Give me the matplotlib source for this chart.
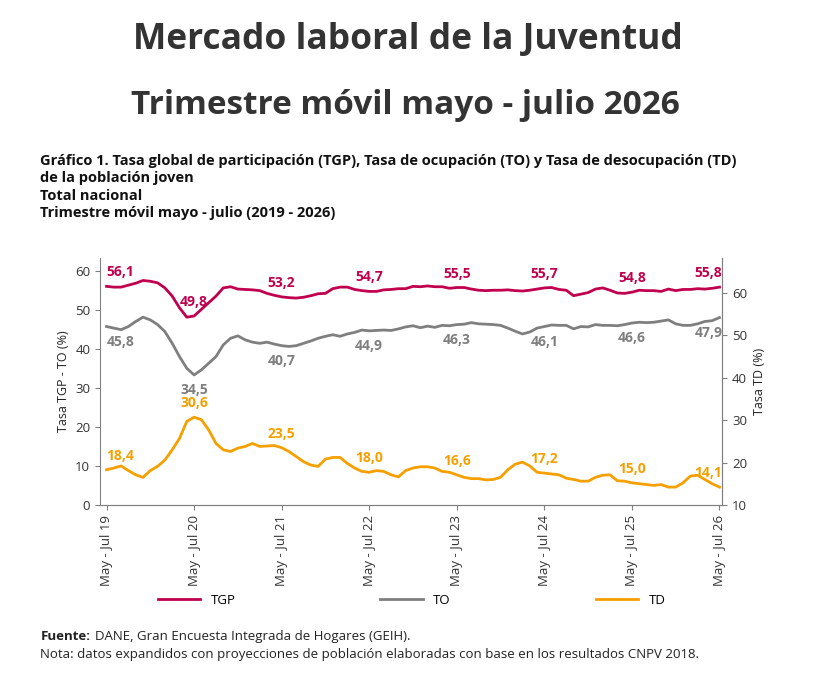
import matplotlib
matplotlib.use("Agg")
import matplotlib.pyplot as plt
from matplotlib.lines import Line2D

plt.rcParams["font.family"] = ["Open Sans", "DejaVu Sans"]

TGP_C = "#C0004E"
TO_C = "#7F7F7F"
TD_C = "#F5A000"
AX_C = "#808080"

tick_labels = ["May - Jul 19", "May - Jul 20", "May - Jul 21", "May - Jul 22",
               "May - Jul 23", "May - Jul 24", "May - Jul 25", "May - Jul 26"]

tgp = [56.0, 55.8, 55.8, 56.3, 56.8, 57.5, 57.3, 56.9, 55.6, 53.5, 50.5, 48.1,
       48.4, 50.1, 51.8, 53.5, 55.6, 55.9, 55.3, 55.2, 55.1, 54.9, 54.2, 53.7,
       53.3, 53.1, 53.0, 53.2, 53.6, 54.1, 54.2, 55.4, 55.8, 55.8, 55.2, 54.9,
       54.7, 54.7, 55.1, 55.2, 55.4, 55.4, 56.0, 55.9, 56.1, 55.9, 55.9, 55.5,
       55.7, 55.7, 55.3, 55.0, 54.9, 55.0, 55.0, 55.1, 54.9, 54.8, 55.0, 55.3,
       55.6, 55.7, 55.2, 55.0, 53.6, 54.0, 54.4, 55.3, 55.6, 55.0, 54.3, 54.2,
       54.5, 55.0, 54.9, 54.9, 54.7, 55.3, 54.9, 55.2, 55.2, 55.4, 55.3, 55.5,
       55.8]
to = [45.7, 45.3, 44.9, 45.7, 47.0, 48.1, 47.4, 46.2, 44.4, 41.4, 38.0, 35.0,
      33.3, 34.6, 36.3, 38.0, 41.0, 42.7, 43.3, 42.3, 41.7, 41.4, 41.7, 41.2,
      40.8, 40.6, 40.8, 41.4, 42.0, 42.7, 43.2, 43.6, 43.2, 43.8, 44.2, 44.8,
      44.6, 44.7, 44.8, 44.7, 45.1, 45.6, 45.9, 45.4, 45.8, 45.5, 46.0, 45.9,
      46.2, 46.3, 46.7, 46.4, 46.3, 46.2, 46.0, 45.3, 44.5, 43.8, 44.3, 45.3,
      45.7, 46.1, 46.0, 46.0, 45.1, 45.7, 45.6, 46.2, 46.0, 46.0, 45.9, 46.2,
      46.6, 46.8, 46.7, 46.8, 47.1, 47.4, 46.4, 46.0, 46.0, 46.4, 47.0, 47.2,
      48.0]
td = [18.3, 18.7, 19.2, 18.1, 17.1, 16.5, 18.1, 19.1, 20.6, 23.0, 25.7, 29.7,
      30.7, 30.1, 27.7, 24.5, 23.0, 22.6, 23.4, 23.8, 24.5, 23.8, 23.9, 24.0,
      23.5, 22.6, 21.4, 20.2, 19.4, 19.1, 20.8, 21.2, 21.2, 19.8, 18.7, 17.9,
      17.7, 18.1, 17.9, 17.1, 16.6, 18.1, 18.7, 19.0, 19.0, 18.7, 17.9, 17.7,
      17.1, 16.5, 16.2, 16.2, 15.9, 16.0, 16.5, 18.3, 19.6, 20.1, 19.2, 17.7,
      17.5, 17.3, 17.1, 16.3, 16.0, 15.6, 15.6, 16.5, 17.0, 17.1, 15.7, 15.6,
      15.2, 15.0, 14.8, 14.6, 14.8, 14.2, 14.2, 15.2, 16.8, 17.0, 16.0, 15.0,
      14.2]

tgp_lab = ["56,1", "49,8", "53,2", "54,7", "55,5", "55,7", "54,8", "55,8"]
to_lab = ["45,8", "34,5", "40,7", "44,9", "46,3", "46,1", "46,6", "47,9"]
td_lab = ["18,4", "30,6", "23,5", "18,0", "16,6", "17,2", "15,0", "14,1"]

x = list(range(len(tgp)))
tick_pos = list(range(0, len(tgp), 12))

fig = plt.figure(figsize=(8.4, 6.75), dpi=100)
ax = fig.add_axes([0.119, 0.252, 0.741, 0.366])
ax2 = ax.twinx()

ax.plot(x, tgp, color=TGP_C, lw=2.0)
ax.plot(x, to, color=TO_C, lw=2.0)
ax2.plot(x, td, color=TD_C, lw=2.0)

ax.set_ylim(0, 63.3)
ax2.set_ylim(10, 68.3)
ax.set_xlim(-0.9, 84.4)
ax.set_yticks(range(0, 61, 10))
ax2.set_yticks(range(10, 61, 10))
ax.set_xticks(tick_pos)
ax.set_xticklabels(tick_labels, rotation=90, fontsize=9)

for a in (ax, ax2):
    a.spines["top"].set_visible(False)
    for s in ("left", "right", "bottom"):
        a.spines[s].set_color(AX_C)
    a.tick_params(colors=AX_C, labelcolor="#333333", labelsize=9.5, direction="out")
ax2.spines["left"].set_visible(False)
ax.set_ylabel("Tasa TGP - TO (%)", fontsize=9, color="#222222")
ax2.set_ylabel("Tasa TD (%)", fontsize=9, color="#222222")

for k, i in enumerate(tick_pos):
    if i == 0:
        ha, dx = "left", 0
    elif i == 84:
        ha, dx = "right", 2
    else:
        ha, dx = "center", 0
    ax.annotate(tgp_lab[k], (i, tgp[i]), xytext=(dx, 5), textcoords="offset points",
                ha=ha, va="bottom", color=TGP_C, fontsize=10, fontweight="bold")
    ax.annotate(to_lab[k], (i, to[i]), xytext=(dx, -6), textcoords="offset points",
                ha=ha, va="top", color=TO_C, fontsize=10, fontweight="bold")
    ax2.annotate(td_lab[k], (i, td[i]), xytext=(dx, 5), textcoords="offset points",
                 ha=ha, va="bottom", color=TD_C, fontsize=10, fontweight="bold")

handles = [Line2D([], [], color=TGP_C, lw=2.0),
           Line2D([], [], color=TO_C, lw=2.0),
           Line2D([], [], color=TD_C, lw=2.0)]
fig.legend(handles, ["TGP", "TO", "TD"], loc="center", bbox_to_anchor=(0.49, 0.111),
           ncol=3, frameon=False, handlelength=3.2, columnspacing=11, fontsize=9.5)

fig.text(0.485, 0.941, "Mercado laboral de la Juventud", ha="center", va="center",
         fontsize=25.5, fontweight="bold", color="#333333")
fig.text(0.483, 0.844, "Trimestre móvil mayo - julio 2026", ha="center", va="center",
         fontsize=24, fontweight="bold", color="#333333")
fig.text(0.048, 0.723, "Gráfico 1. Tasa global de participación (TGP), Tasa de ocupación (TO) y Tasa de desocupación (TD)\n"
         "de la población joven\nTotal nacional\nTrimestre móvil mayo - julio (2019 - 2026)",
         ha="left", va="center", fontsize=10.5, fontweight="bold", color="#111111",
         linespacing=1.3)
fig.text(0.048, 0.057, "Fuente:", ha="left", va="center", fontsize=9.5,
         fontweight="bold", color="#222222")
fig.text(0.113, 0.057, "DANE, Gran Encuesta Integrada de Hogares (GEIH).",
         ha="left", va="center", fontsize=9.5, color="#222222")
fig.text(0.048, 0.031, "Nota: datos expandidos con proyecciones de población elaboradas con base en los resultados CNPV 2018.",
         ha="left", va="center", fontsize=9.5, color="#222222")

fig.savefig("out.png", dpi=100)
